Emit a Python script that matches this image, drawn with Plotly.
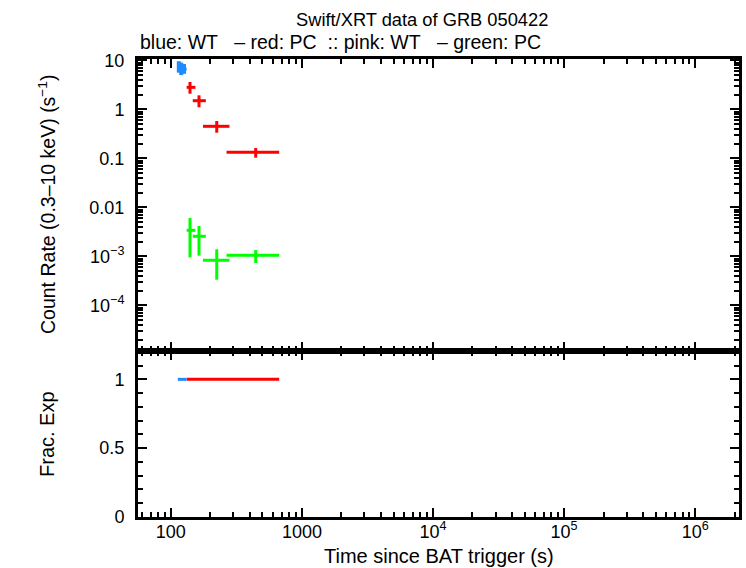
import plotly.graph_objects as go
from plotly.subplots import make_subplots

# ---- data ----
# WT (blue) count rate
wt_t = [115, 120, 126]
wt_tlo = [113, 118, 122]
wt_thi = [118, 122, 132]
wt_rate = [7.4, 7.0, 6.6]
wt_rlo = [5.6, 5.0, 5.3]
wt_rhi = [9.6, 9.0, 8.4]

# PC (red) count rate
pc_t = [140, 164, 224, 444]
pc_tlo = [132, 147, 176, 266]
pc_thi = [154, 185, 280, 671]
pc_rate = [2.81, 1.50, 0.450, 0.1325]
pc_rlo = [2.08, 1.10, 0.333, 0.103]
pc_rhi = [3.61, 1.93, 0.577, 0.162]

# PC (green) count rate
gr_t = [140, 164, 224, 444]
gr_tlo = [132, 147, 176, 266]
gr_thi = [154, 185, 280, 671]
gr_rate = [3.39e-3, 2.56e-3, 8.3e-4, 1.05e-3]
gr_rlo = [9.5e-4, 1.03e-3, 3.33e-4, 7.3e-4]
gr_rhi = [6.05e-3, 4.15e-3, 1.39e-3, 1.34e-3]

# fractional exposure
fe_wt_t = [122]
fe_wt_lo = [113]
fe_wt_hi = [132]
fe_wt = [1.0]
fe_pc_t = [400]
fe_pc_lo = [132]
fe_pc_hi = [671]
fe_pc = [1.0]

y_tickvals = [10, 1, 0.1, 0.01, 1e-3, 1e-4]
y_ticktext = ["10", "1", "0.1", "0.01", "10<sup>−3</sup>", "10<sup>−4</sup>"]
x_tickvals = [100, 1000, 1e4, 1e5, 1e6]
x_ticktext = ["100", "1000", "10<sup>4</sup>", "10<sup>5</sup>", "10<sup>6</sup>"]

BLUE = "#1e8cff"
RED = "#ff0000"
GREEN = "#00ff00"
FONT = "Liberation Sans, Arial, sans-serif"
FS = 18
NB = "\u00a0"


def err_trace(t, tlo, thi, y, ylo, yhi, color, thick=3):
    return go.Scatter(
        x=t, y=y, mode="markers",
        marker=dict(size=1, color=color),
        error_x=dict(type="data", symmetric=False,
                     array=[h - c for h, c in zip(thi, t)],
                     arrayminus=[c - l for c, l in zip(t, tlo)],
                     color=color, thickness=3, width=0),
        error_y=dict(type="data", symmetric=False,
                     array=[h - c for h, c in zip(yhi, y)],
                     arrayminus=[c - l for c, l in zip(y, ylo)],
                     color=color, thickness=thick, width=0),
        showlegend=False, hoverinfo="skip")


def fe_trace(t, tlo, thi, y, color):
    return go.Scatter(
        x=t, y=y, mode="markers",
        marker=dict(size=1, color=color),
        error_x=dict(type="data", symmetric=False,
                     array=[h - c for h, c in zip(thi, t)],
                     arrayminus=[c - l for c, l in zip(t, tlo)],
                     color=color, thickness=3, width=0),
        showlegend=False, hoverinfo="skip")


fig = make_subplots(rows=2, cols=1, shared_xaxes=True, vertical_spacing=0,
                    row_heights=[292, 166])

fig.add_trace(err_trace(gr_t, gr_tlo, gr_thi, gr_rate, gr_rlo, gr_rhi, GREEN), row=1, col=1)
fig.add_trace(err_trace(pc_t, pc_tlo, pc_thi, pc_rate, pc_rlo, pc_rhi, RED), row=1, col=1)
fig.add_trace(err_trace(wt_t, wt_tlo, wt_thi, wt_rate, wt_rlo, wt_rhi, BLUE, thick=4), row=1, col=1)
fig.add_trace(fe_trace(fe_pc_t, fe_pc_lo, fe_pc_hi, fe_pc, RED), row=2, col=1)
fig.add_trace(fe_trace(fe_wt_t, fe_wt_lo, fe_wt_hi, fe_wt, BLUE), row=2, col=1)

axis_common = dict(showline=True, linecolor="black", linewidth=3, mirror="ticks",
                   ticks="inside", tickcolor="black", tickwidth=2, ticklen=9,
                   showgrid=False, zeroline=False,
                   tickfont=dict(family=FONT, size=FS, color="black"))

xr = [1.7495, 6.334]
fig.update_xaxes(type="log", range=xr, tickvals=x_tickvals, ticktext=x_ticktext,
                 minor=dict(ticks="inside", ticklen=5, tickwidth=2, tickcolor="black",
                            dtick="D1", showgrid=False),
                 **axis_common)
fig.update_xaxes(showticklabels=False, row=1, col=1)
fig.update_xaxes(ticklabelstandoff=-4, row=2, col=1)

fig.update_yaxes(type="log", range=[-4.933, 1.027], tickvals=y_tickvals, ticktext=y_ticktext,
                 minor=dict(ticks="inside", ticklen=5, tickwidth=2, tickcolor="black",
                            dtick="D1", showgrid=False),
                 ticklabelstandoff=7, row=1, col=1, **axis_common)
fig.update_yaxes(range=[0, 1.206], tickvals=[0, 0.5, 1], ticktext=["0", "0.5", "1"],
                 minor=dict(ticks="inside", ticklen=5, tickwidth=2, tickcolor="black",
                            dtick=0.1, showgrid=False),
                 ticklabelstandoff=7, row=2, col=1, **axis_common)

line2 = ("blue: WT" + NB * 3 + "– red: PC" + NB * 2 + ":: pink: WT" + NB * 3 + "– green: PC")

fig.update_layout(
    width=746, height=568,
    margin=dict(l=138, r=4, t=59, b=51),
    paper_bgcolor="white", plot_bgcolor="white",
    font=dict(family=FONT, size=FS, color="black"),
    annotations=[
        dict(text="Swift/XRT data of GRB 050422", xref="paper", yref="paper",
             x=(423 - 138) / 604, y=1, xanchor="center", yanchor="middle", yshift=40,
             showarrow=False, font=dict(family=FONT, size=18.3)),
        dict(text=line2, xref="paper", yref="paper",
             x=(342 - 138) / 604, y=1, xanchor="center", yanchor="middle", yshift=17,
             showarrow=False, font=dict(family=FONT, size=19.5)),
        dict(text="Count Rate (0.3–10 keV) (s<sup>−1</sup>)", xref="paper", yref="paper",
             x=0, y=(458 - 146) / 458, xanchor="center", yanchor="middle", xshift=-91,
             textangle=-90, showarrow=False, font=dict(family=FONT, size=19.5)),
        dict(text="Frac. Exp", xref="paper", yref="paper",
             x=0, y=(517 - 434) / 458, xanchor="center", yanchor="middle", xshift=-91,
             textangle=-90, showarrow=False, font=dict(family=FONT, size=20)),
        dict(text="Time since BAT trigger (s)", xref="paper", yref="paper",
             x=(441 - 138) / 604, y=0, xanchor="center", yanchor="middle", yshift=-39,
             showarrow=False, font=dict(family=FONT, size=20)),
    ],
)

fig.write_html("out.html")
